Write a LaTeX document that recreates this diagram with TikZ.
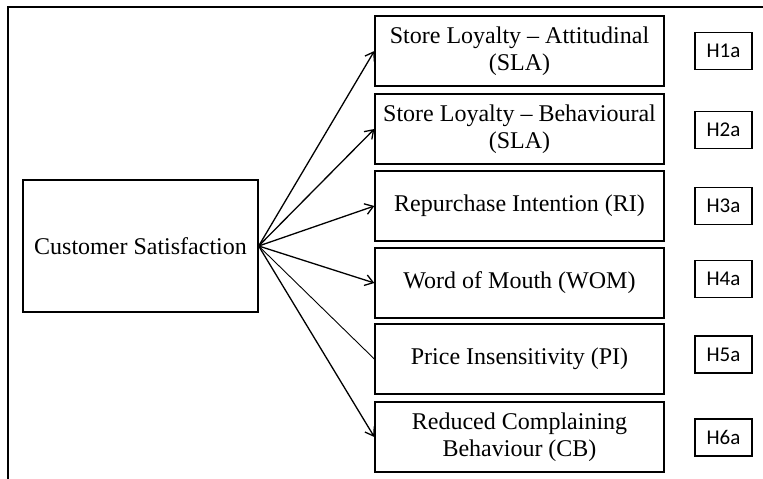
\documentclass[tikz,border=0pt]{standalone}
\usepackage{fontspec}
\setmainfont{Liberation Serif}
\newfontfamily\hfont{Carlito}
\usetikzlibrary{arrows.meta}
\begin{document}
\begin{tikzpicture}[x=1pt,y=-1pt,
  box/.style={draw, line width=1.3pt, minimum width=289pt, minimum height=70pt, inner sep=0pt, align=center, font=\fontsize{24}{27}\selectfont},
  cbox/.style={draw, line width=1.3pt, minimum width=235pt, minimum height=132pt, inner sep=0pt, align=center, font=\fontsize{24}{27}\selectfont},
  hbox/.style={draw, line width=1.1pt, minimum width=57pt, minimum height=37pt, inner sep=0pt, font=\hfont\fontsize{21}{24}\selectfont},
  arr/.style={line width=1.3pt, -{Straight Barb[length=8pt,width=11pt]}},
  plain/.style={line width=0.9pt},
  frame/.style={line width=1.3pt}]
\useasboundingbox (0,0) rectangle (763,479);
\coordinate (fb) at (8,479);
\coordinate (fc) at (8,7);
\coordinate (fr) at (763,7);
\draw[frame] (fb) -- (fc) -- (fr);

\node[cbox] (cs) at (140.5,246) {Customer Satisfaction};

\node[box] (b1) at (519.5,51) {Store Loyalty -- Attitudinal\\(SLA)};
\node[box] (b2) at (519.5,129) {Store Loyalty -- Behavioural\\(SLA)};
\node[box] (b3) at (519.5,206) {Repurchase Intention (RI)};
\node[box] (b4) at (519.5,283) {Word of Mouth (WOM)};
\node[box] (b5) at (519.5,359) {Price Insensitivity (PI)};
\node[box] (b6) at (519.5,437) {Reduced Complaining\\Behaviour (CB)};

\node[hbox] (h1) at (723.5,51) {H1a};
\node[hbox] (h2) at (723.5,130) {H2a};
\node[hbox] (h3) at (723.5,206) {H3a};
\node[hbox] (h4) at (723.5,279) {H4a};
\node[hbox] (h5) at (723.5,354.5) {H5a};
\node[hbox] (h6) at (723.5,437.5) {H6a};

\draw[arr] (cs.east) -- (b1.west);
\draw[arr] (cs.east) -- (b2.west);
\draw[arr] (cs.east) -- (b3.west);
\draw[arr] (cs.east) -- (b4.west);
\draw[plain] (cs.east) -- (b5.west);
\draw[arr] (cs.east) -- (b6.west);
\end{tikzpicture}
\end{document}
